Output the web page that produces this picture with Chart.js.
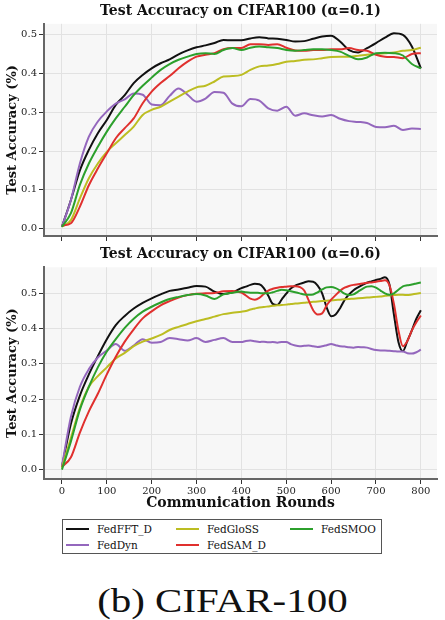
<!DOCTYPE html>
<html>
<head>
<meta charset="utf-8">
<script src="https://cdn.jsdelivr.net/npm/chart.js@4.4.1/dist/chart.umd.min.js"></script>
<style>
  body { margin: 0; background: #fff; width: 445px; height: 620px; position: relative; overflow: hidden; font-family: "DejaVu Serif", serif; }
  canvas { position: absolute; left: 0; }
  #topChart { top: 0; }
  #bottomChart { top: 240px; }
  #legend { position: absolute; left: 62px; top: 519px; width: 318px; height: 33px; border: 1.5px solid #555; background: #fff; }
  .item { position: absolute; font-size: 10.5px; color: #111; line-height: 12px; white-space: nowrap; }
  .item span.handle { position: absolute; left: 0; top: 5px; width: 23px; height: 2px; }
  .item span.label { position: absolute; left: 31px; top: 0; }
  #caption { position: absolute; left: 0; top: 585px; width: 445px; text-align: center; font-family: "Liberation Serif", serif; font-size: 33px; line-height: 33px; color: #111; transform: scaleX(1.24); transform-origin: 223px 0; }
</style>
</head>
<body>
<canvas id="topChart" width="445" height="250"></canvas>
<canvas id="bottomChart" width="445" height="272"></canvas>
<div id="legend"></div>
<div id="caption">(b) CIFAR-100</div>
<script>
// series names in legend order, with their colours
const seriesNames = ["FedFFT_D", "FedDyn", "FedGloSS", "FedSAM_D", "FedSMOO"];
const seriesColors = ["#111111", "#9467bd", "#bcbd22", "#e0302e", "#2ca02c"];

const xTicks = [0, 100, 200, 300, 400, 500, 600, 700, 800];
const yTicks = [0.0, 0.1, 0.2, 0.3, 0.4, 0.5];

// alpha = 0.1 (every 20 rounds)
const roundsTop = [0, 20, 40, 60, 80, 100, 120, 140, 160, 180, 200, 220, 240, 260, 280, 300, 320, 340, 360, 380, 400,
  420, 440, 460, 480, 500, 520, 540, 560, 580, 600, 620, 640, 660, 680, 700, 720, 740, 760, 780, 800];

const topFFT = [0.005, 0.074, 0.15, 0.203, 0.246, 0.28, 0.319, 0.344, 0.375, 0.396, 0.413, 0.426, 0.436, 0.449, 0.459, 0.467, 0.472, 0.478, 0.486, 0.485, 0.485,
  0.49, 0.493, 0.49, 0.489, 0.486, 0.482, 0.483, 0.489, 0.495, 0.497, 0.482, 0.46, 0.454, 0.465, 0.478, 0.492, 0.503, 0.499, 0.469, 0.413];
const topDyn = [0.005, 0.074, 0.168, 0.237, 0.276, 0.302, 0.322, 0.333, 0.348, 0.345, 0.32, 0.318, 0.342, 0.361, 0.345, 0.327, 0.335, 0.352, 0.35, 0.322, 0.315,
  0.334, 0.33, 0.31, 0.304, 0.314, 0.291, 0.297, 0.292, 0.289, 0.293, 0.283, 0.277, 0.275, 0.272, 0.262, 0.261, 0.265, 0.254, 0.258, 0.257];
const topGloSS = [0.005, 0.022, 0.078, 0.13, 0.168, 0.198, 0.22, 0.241, 0.263, 0.293, 0.306, 0.314, 0.327, 0.34, 0.353, 0.364, 0.368, 0.379, 0.392, 0.393, 0.396,
  0.409, 0.418, 0.42, 0.424, 0.43, 0.432, 0.435, 0.436, 0.439, 0.442, 0.443, 0.443, 0.445, 0.448, 0.45, 0.452, 0.454, 0.458, 0.46, 0.466];
const topSAM = [0.008, 0.014, 0.057, 0.112, 0.155, 0.194, 0.233, 0.259, 0.284, 0.323, 0.353, 0.375, 0.393, 0.413, 0.43, 0.443, 0.448, 0.452, 0.462, 0.465, 0.465,
  0.475, 0.475, 0.473, 0.475, 0.466, 0.459, 0.458, 0.46, 0.46, 0.462, 0.462, 0.465, 0.46, 0.458, 0.448, 0.443, 0.442, 0.439, 0.45, 0.452];
const topSMOO = [0.005, 0.04, 0.113, 0.168, 0.211, 0.25, 0.284, 0.314, 0.344, 0.368, 0.389, 0.409, 0.424, 0.435, 0.443, 0.45, 0.452, 0.45, 0.46, 0.465, 0.46,
  0.466, 0.469, 0.467, 0.465, 0.46, 0.458, 0.46, 0.462, 0.462, 0.46, 0.456, 0.445, 0.436, 0.441, 0.452, 0.453, 0.452, 0.446, 0.424, 0.413];

// alpha = 0.6 (every 20 rounds up to 400, then every 10)
const roundsBottom = [0, 20, 40, 60, 80, 100, 120, 140, 160, 180, 200, 220, 240, 260, 280, 300, 320, 340, 360, 380, 400,
  410, 420, 430, 440, 450, 460, 470, 480, 490, 500, 510, 520, 530, 540, 550, 560, 570, 580, 590, 600,
  610, 620, 630, 640, 650, 660, 670, 680, 690, 700, 710, 720, 730, 740, 750, 760, 770, 780, 790, 800];

const botFFT = [0.008, 0.13, 0.21, 0.27, 0.322, 0.37, 0.41, 0.436, 0.457, 0.473, 0.486, 0.497, 0.507, 0.511, 0.516, 0.521, 0.519, 0.505, 0.498, 0.503, 0.515,
  0.519, 0.524, 0.527, 0.526, 0.515, 0.493, 0.47, 0.467, 0.483, 0.499, 0.514, 0.522, 0.527, 0.531, 0.534, 0.533, 0.522, 0.5, 0.46, 0.435,
  0.44, 0.458, 0.481, 0.497, 0.509, 0.517, 0.524, 0.53, 0.534, 0.538, 0.541, 0.546, 0.525, 0.44, 0.362, 0.336, 0.365, 0.395, 0.428, 0.452];
const botDyn = [0.01, 0.15, 0.235, 0.285, 0.318, 0.338, 0.356, 0.337, 0.352, 0.37, 0.36, 0.362, 0.373, 0.37, 0.366, 0.373, 0.362, 0.368, 0.373, 0.362, 0.362,
  0.365, 0.366, 0.364, 0.362, 0.363, 0.361, 0.362, 0.36, 0.362, 0.362, 0.356, 0.352, 0.35, 0.351, 0.352, 0.35, 0.348, 0.35, 0.353, 0.356,
  0.353, 0.35, 0.349, 0.347, 0.346, 0.348, 0.347, 0.346, 0.342, 0.339, 0.338, 0.338, 0.337, 0.336, 0.335, 0.335, 0.33, 0.329, 0.333, 0.34];
const botGloSS = [0.005, 0.09, 0.175, 0.235, 0.265, 0.29, 0.315, 0.331, 0.35, 0.363, 0.372, 0.382, 0.396, 0.405, 0.413, 0.421, 0.427, 0.434, 0.441, 0.445, 0.448,
  0.45, 0.454, 0.457, 0.46, 0.461, 0.463, 0.465, 0.466, 0.467, 0.468, 0.47, 0.471, 0.472, 0.473, 0.475, 0.476, 0.477, 0.478, 0.479, 0.48,
  0.481, 0.482, 0.483, 0.484, 0.485, 0.486, 0.487, 0.488, 0.489, 0.49, 0.491, 0.493, 0.494, 0.495, 0.496, 0.496, 0.495, 0.497, 0.499, 0.501];
const botSAM = [0.008, 0.035, 0.105, 0.165, 0.215, 0.27, 0.32, 0.363, 0.398, 0.429, 0.449, 0.466, 0.478, 0.488, 0.495, 0.499, 0.5, 0.501, 0.506, 0.507, 0.502,
  0.494, 0.485, 0.482, 0.487, 0.498, 0.508, 0.513, 0.516, 0.518, 0.519, 0.52, 0.52, 0.518, 0.508, 0.48, 0.452, 0.44, 0.443, 0.466, 0.482,
  0.495, 0.507, 0.516, 0.521, 0.524, 0.526, 0.528, 0.53, 0.531, 0.533, 0.535, 0.537, 0.523, 0.47, 0.395, 0.35, 0.365, 0.395, 0.418, 0.437];
const botSMOO = [0.0, 0.08, 0.17, 0.235, 0.29, 0.335, 0.37, 0.402, 0.428, 0.448, 0.462, 0.474, 0.484, 0.49, 0.495, 0.498, 0.494, 0.484, 0.497, 0.502, 0.505,
  0.503, 0.502, 0.502, 0.501, 0.5, 0.5, 0.503, 0.507, 0.51, 0.509, 0.506, 0.503, 0.5, 0.497, 0.496, 0.497, 0.503, 0.511, 0.517, 0.518,
  0.515, 0.508, 0.499, 0.495, 0.497, 0.505, 0.513, 0.519, 0.52, 0.516, 0.508, 0.5, 0.496, 0.5, 0.51, 0.52, 0.523, 0.525, 0.528, 0.531];

Chart.defaults.font.family = "'DejaVu Serif', serif";
Chart.defaults.color = "#222";

// light grey plot area like the matplotlib style
const plotBg = {
  id: "plotBg",
  beforeDraw(chart) {
    const { ctx, chartArea: a } = chart;
    ctx.save();
    ctx.fillStyle = "#f7f7f7";
    ctx.fillRect(a.left, a.top, a.right - a.left, a.bottom - a.top);
    ctx.restore();
  }
};

function makeDatasets(rounds, seriesList) {
  return seriesList.map((vals, i) => ({
    label: seriesNames[i],
    data: rounds.map((r, j) => ({ x: r, y: vals[j] })),
    borderColor: seriesColors[i],
    backgroundColor: seriesColors[i],
    borderWidth: 2,
    pointRadius: 0,
    fill: false,
    cubicInterpolationMode: "monotone",
    order: seriesList.length - i
  }));
}

function makeChart(id, title, rounds, seriesList, yMin, yMax, withXLabels, xHeight, titlePad) {
  return new Chart(document.getElementById(id), {
    type: "line",
    data: { datasets: makeDatasets(rounds, seriesList) },
    options: {
      responsive: false,
      animation: false,
      layout: { padding: { left: 5, right: 8, top: 0, bottom: 0 } },
      plugins: {
        legend: { display: false },
        tooltip: { enabled: false },
        title: {
          display: true,
          fullSize: false,
          text: title,
          font: { size: 14, weight: "bold" },
          color: "#111",
          padding: titlePad
        }
      },
      scales: {
        x: {
          type: "linear",
          min: -40,
          max: 836,
          afterBuildTicks: s => { s.ticks = xTicks.map(v => ({ value: v })); },
          afterFit: s => { s.height = xHeight; },
          grid: { color: "#e2e2e2", tickColor: "#333", tickLength: 5 },
          border: { color: "#666", width: 2 },
          ticks: { display: withXLabels, padding: 1, font: { size: 10 }, color: "#222", maxRotation: 0 },
          title: {
            display: withXLabels,
            text: "Communication Rounds",
            font: { size: 14, weight: "bold" },
            color: "#111",
            padding: 0
          }
        },
        y: {
          min: yMin,
          max: yMax,
          afterBuildTicks: s => { s.ticks = yTicks.map(v => ({ value: v })); },
          afterFit: s => { s.width = 39; },
          grid: { color: "#e2e2e2", tickColor: "#333", tickLength: 5 },
          border: { color: "#666", width: 2 },
          ticks: { padding: 2, font: { size: 10 }, color: "#222", callback: v => Number(v).toFixed(1) },
          title: {
            display: true,
            text: "Test Accuracy (%)",
            font: { size: 13, weight: "bold" },
            color: "#111",
            padding: 0
          }
        }
      }
    },
    plugins: [plotBg]
  });
}

makeChart("topChart", "Test Accuracy on CIFAR100 (α=0.1)", roundsTop,
  [topFFT, topDyn, topGloSS, topSAM, topSMOO], -0.0188, 0.5276, false, 14, { top: 2.5, bottom: 4.5 });
makeChart("bottomChart", "Test Accuracy on CIFAR100 (α=0.6)", roundsBottom,
  [botFFT, botDyn, botGloSS, botSAM, botSMOO], -0.0267, 0.5739, true, 33, { top: 5.5, bottom: 5 });

// legend: three columns, filled column by column
const legendEl = document.getElementById("legend");
const colX = [3, 113, 227];
const rowY = [3, 19];
seriesNames.forEach((name, i) => {
  const item = document.createElement("div");
  item.className = "item";
  item.style.left = colX[Math.floor(i / 2)] + "px";
  item.style.top = rowY[i % 2] + "px";
  item.innerHTML = `<span class="handle" style="background:${seriesColors[i]}"></span><span class="label">${name}</span>`;
  legendEl.appendChild(item);
});
</script>
</body>
</html>
